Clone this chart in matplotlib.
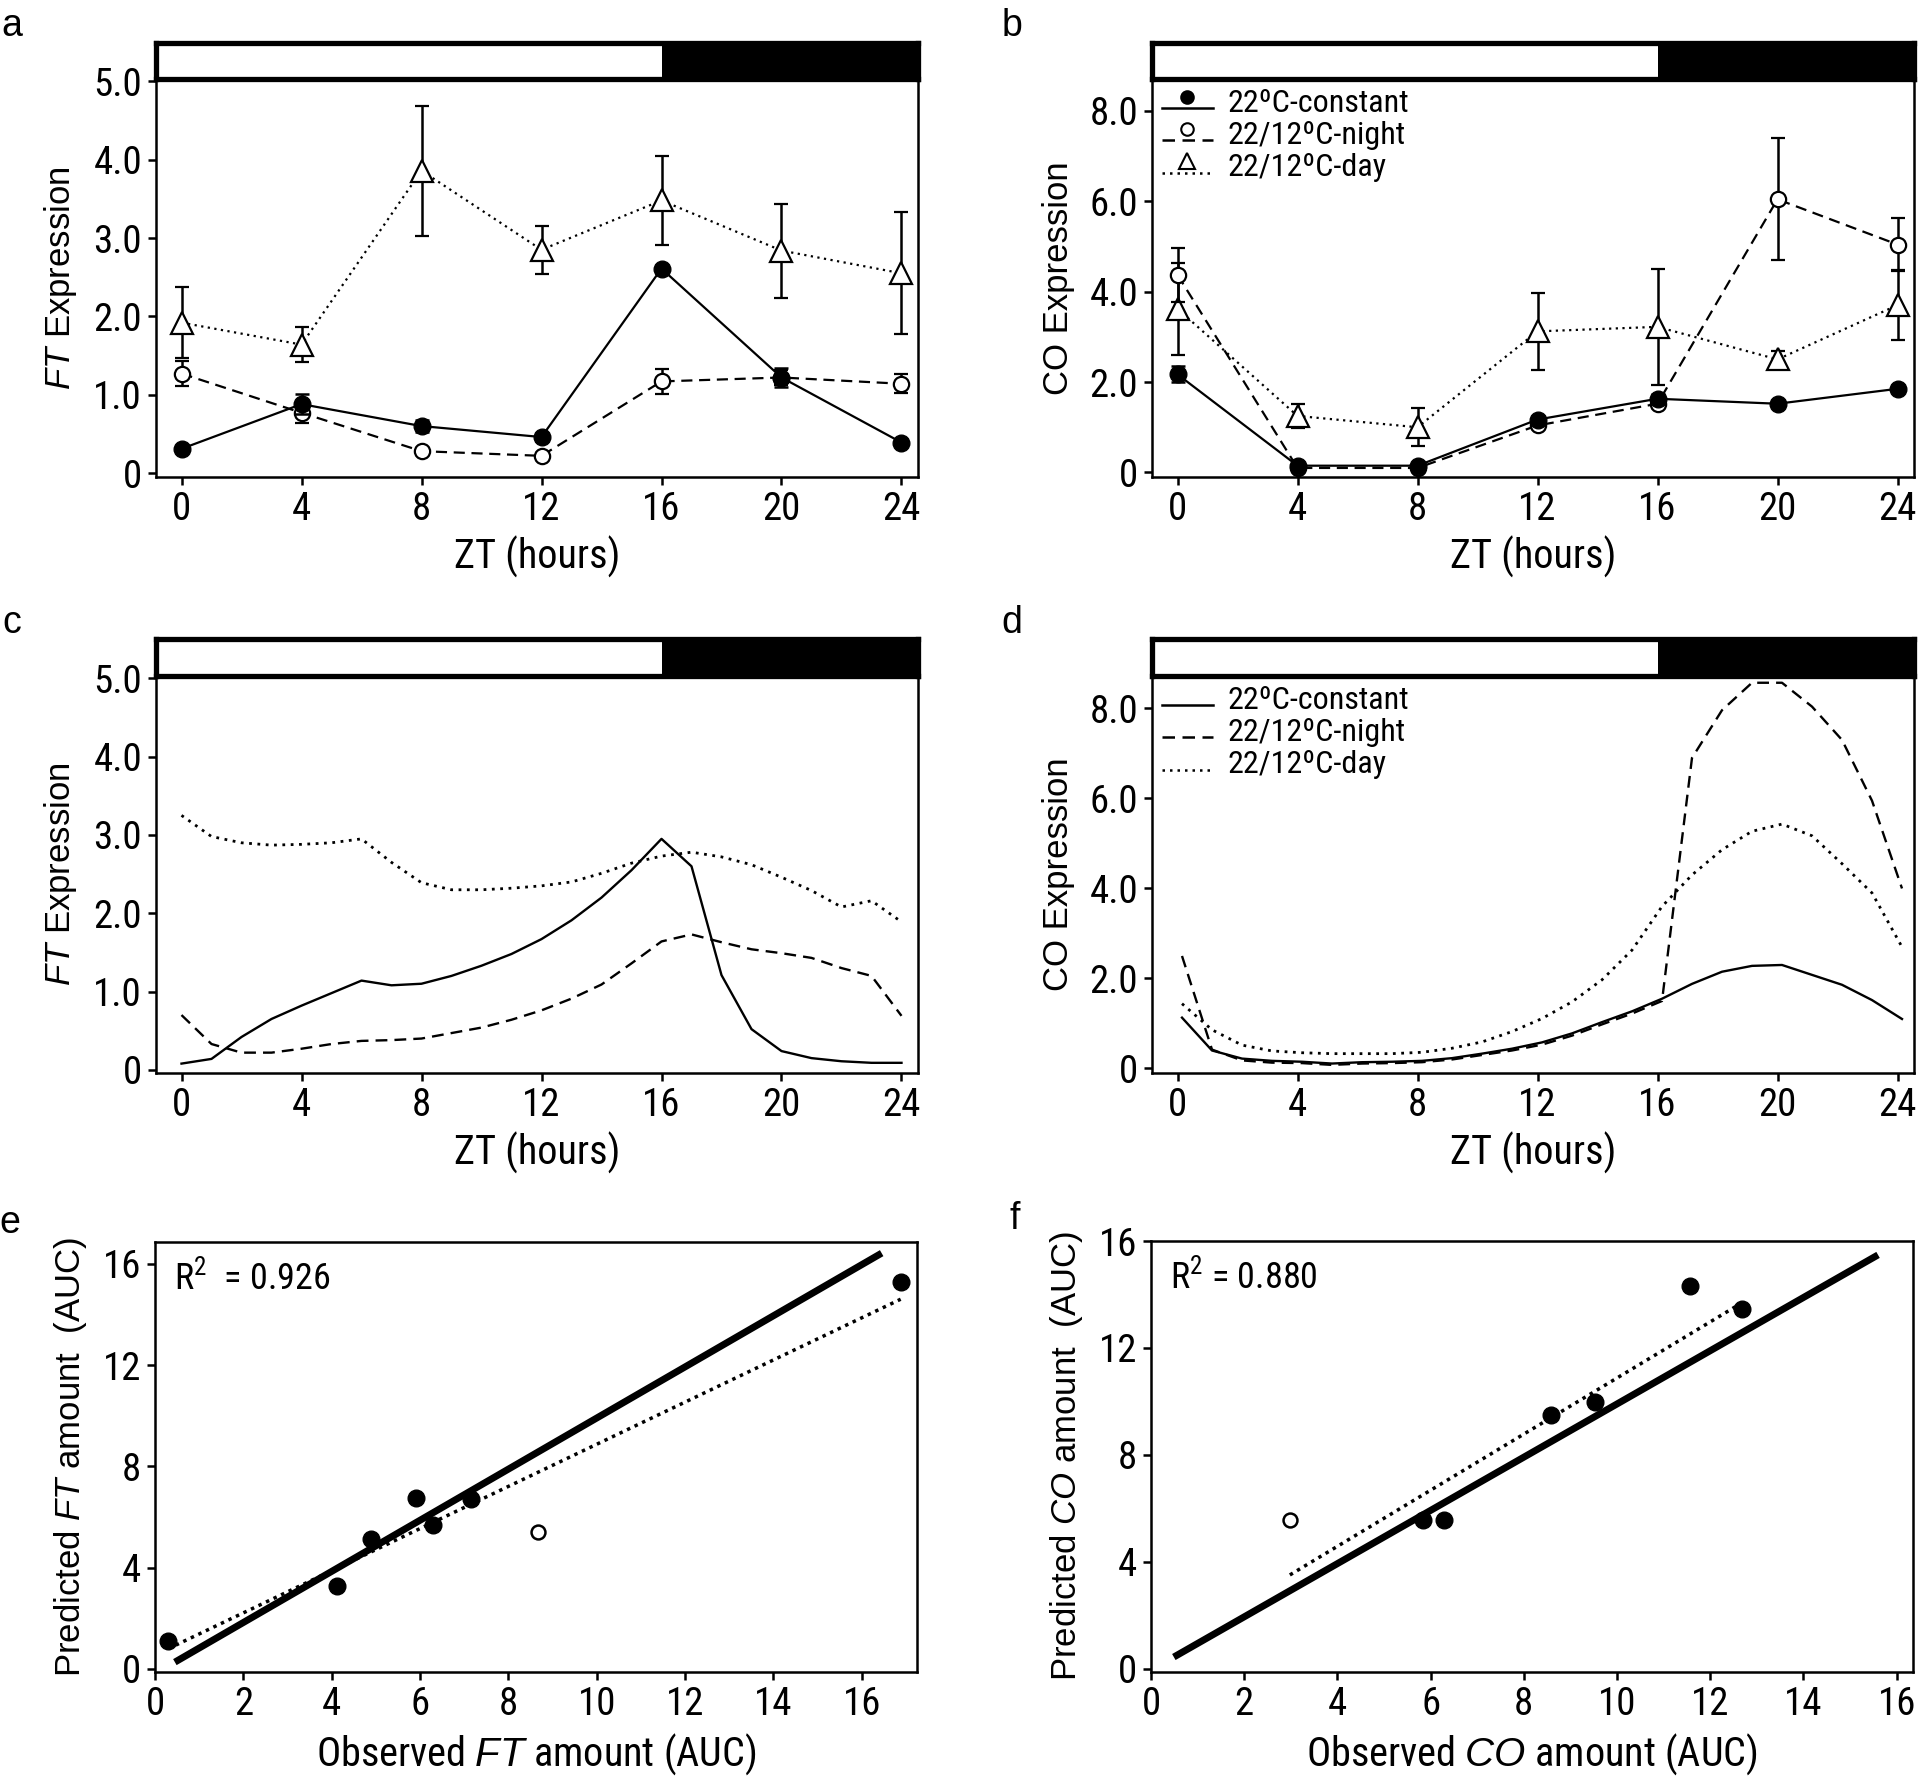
import matplotlib

matplotlib.use('Agg')

import matplotlib.pyplot as plt
from matplotlib.lines import Line2D
from matplotlib.legend_handler import HandlerBase

NARROW = ['Roboto Condensed', 'DejaVu Sans']
WIDE = ['Liberation Sans', 'DejaVu Sans']

plt.rcParams['font.family'] = NARROW
plt.rcParams['mathtext.fontset'] = 'custom'
plt.rcParams['mathtext.rm'] = 'Roboto Condensed'
plt.rcParams['mathtext.it'] = 'Liberation Sans:italic'

# ---- data: observed time courses (panels a, b)
zt = [0, 4, 8, 12, 16, 20, 24]

ft_const = [0.31, 0.88, 0.60, 0.46, 2.61, 1.22, 0.39]
ft_const_err = [0.04, 0.13, 0.08, 0.05, 0.05, 0.12, 0.04]
ft_night = [1.27, 0.77, 0.28, 0.22, 1.17, 1.22, 1.14]
ft_night_err = [0.16, 0.13, 0.03, 0.03, 0.16, 0.10, 0.12]
ft_day = [1.92, 1.64, 3.86, 2.85, 3.48, 2.84, 2.55]
ft_day_err = [0.45, 0.22, 0.83, 0.31, 0.57, 0.60, 0.78]

co_const = [2.17, 0.15, 0.15, 1.17, 1.63, 1.52, 1.85]
co_const_err = [0.18, 0.05, 0.05, 0.08, 0.10, 0.08, 0.08]
co_night = [4.37, 0.10, 0.10, 1.04, 1.52, 6.04, 5.04]
co_night_err = [0.60, 0.05, 0.05, 0.08, 0.10, 1.35, 0.58]
co_day = [3.62, 1.25, 1.00, 3.12, 3.22, 2.50, 3.70]
co_day_err = [1.02, 0.27, 0.42, 0.85, 1.28, 0.18, 0.78]

# ---- data: model simulations (panels c, d)
ft_model_t = [0, 1, 2, 3, 4, 5, 6, 7, 8, 9, 10, 11, 12,
              13, 14, 15, 16, 17, 18, 19, 20, 21, 22, 23, 24]
ft_model_const = [0.08, 0.14, 0.42, 0.65, 0.82, 0.98, 1.14, 1.08, 1.10, 1.20, 1.33, 1.48, 1.67,
                  1.91, 2.20, 2.55, 2.95, 2.60, 1.21, 0.52, 0.24, 0.15, 0.11, 0.09, 0.09]
ft_model_night = [0.70, 0.33, 0.22, 0.22, 0.27, 0.33, 0.37, 0.38, 0.40, 0.47, 0.54, 0.64, 0.76,
                  0.91, 1.09, 1.36, 1.64, 1.73, 1.63, 1.54, 1.49, 1.43, 1.30, 1.20, 0.69]
ft_model_day = [3.25, 2.98, 2.90, 2.87, 2.88, 2.90, 2.95, 2.65, 2.39, 2.30, 2.30, 2.32, 2.35,
                2.40, 2.51, 2.64, 2.73, 2.78, 2.72, 2.62, 2.46, 2.29, 2.08, 2.16, 1.89]

co_model_t = [0.15, 1.15, 2.15, 3.15, 4.15, 5.15, 6.15, 7.15, 8.15, 9.15, 10.15, 11.15, 12.15,
              13.15, 14.15, 15.15, 16.15, 17.15, 18.15, 19.15, 20.15, 21.15, 22.15, 23.15, 24.15]
co_model_const = [1.13, 0.40, 0.22, 0.17, 0.15, 0.11, 0.14, 0.15, 0.17, 0.23, 0.33, 0.44, 0.58,
                  0.78, 1.03, 1.27, 1.55, 1.88, 2.15, 2.28, 2.30, 2.08, 1.86, 1.52, 1.10]
co_model_night = [2.50, 0.42, 0.18, 0.13, 0.12, 0.08, 0.11, 0.12, 0.14, 0.20, 0.30, 0.40, 0.53,
                  0.73, 0.98, 1.22, 1.50, 6.90, 7.96, 8.57, 8.57, 8.04, 7.30, 5.95, 4.00]
co_model_day = [1.44, 0.86, 0.52, 0.39, 0.35, 0.33, 0.33, 0.33, 0.36, 0.45, 0.59, 0.82, 1.11,
                1.48, 1.97, 2.63, 3.60, 4.30, 4.86, 5.27, 5.43, 5.17, 4.55, 3.90, 2.70]

# ---- data: observed vs predicted AUC (panels e, f)
ft_obs = [0.30, 4.11, 4.88, 5.91, 6.29, 7.15, 16.88]
ft_pred = [1.12, 3.28, 5.14, 6.75, 5.70, 6.71, 15.28]
ft_out_obs = [8.68]
ft_out_pred = [5.39]
ft_diag_x = [0.45, 16.45]
ft_diag_y = [0.27, 16.42]
ft_fit_x = [0.30, 16.88]
ft_fit_y = [0.80, 14.60]

co_obs = [5.84, 6.28, 8.59, 9.52, 11.56, 12.69]
co_pred = [5.58, 5.58, 9.50, 9.98, 14.30, 13.44]
co_out_obs = [2.98]
co_out_pred = [5.58]
co_diag_x = [0.49, 15.60]
co_diag_y = [0.44, 15.48]
co_fit_x = [2.98, 12.69]
co_fit_y = [3.51, 13.70]

series_labels = ['22ºC-constant', '22/12ºC-night', '22/12ºC-day']
light_end = 16

W, H = 1920, 1782
fig = plt.figure(figsize=(W / 100, H / 100), dpi=100)

TICK_FS = 28
XLAB_FS = 29
YLAB_FS = 25
LEG_FS = 23
DOT = (0, (1, 2))
DASH = (0, (5, 3))


def px_axes(x0, y0, x1, y1):
    return fig.add_axes([x0 / W, 1 - y1 / H, (x1 - x0) / W, (y1 - y0) / H])


def style_axes(ax):
    for s in ax.spines.values():
        s.set_linewidth(1.8)
    ax.tick_params(direction='out', length=6, width=1.8, labelsize=TICK_FS, pad=4)


def light_bar(x0, x1, y0, y1, xlim):
    bar = px_axes(x0, y0, x1, y1)
    bar.set_xlim(*xlim)
    bar.set_ylim(0, 1)
    bar.axvspan(light_end, xlim[1], color='black', lw=0)
    bar.set_xticks([])
    bar.set_yticks([])
    for s in bar.spines.values():
        s.set_linewidth(3.8)
    return bar


class MarkerAboveLine(HandlerBase):
    def create_artists(self, legend, orig_handle, xdescent, ydescent,
                       width, height, fontsize, trans):
        ymid = (height - ydescent) / 2
        line = Line2D([-xdescent, width - xdescent], [ymid - 0.35 * height] * 2)
        line.update_from(orig_handle)
        line.set_marker('None')
        mk = Line2D([width / 2 - xdescent], [ymid + 0.15 * height])
        mk.update_from(orig_handle)
        mk.set_linestyle('None')
        for a in (line, mk):
            a.set_transform(trans)
        return [line, mk]


def add_legend(ax, markers):
    styles = ['-', DASH, DOT]
    fills = ['black', 'white', 'white']
    handles = []
    for m, ls, fc in zip(markers, styles, fills):
        handles.append(Line2D([], [], color='black', lw=1.8, ls=ls, marker=m,
                              ms=9 if m == 'o' else 11, mfc=fc, mec='black', mew=1.5))
    ax.legend(handles, series_labels, loc='upper left', bbox_to_anchor=(0.0, 1.0),
              frameon=False, fontsize=LEG_FS, handlelength=1.6, handletextpad=0.45,
              labelspacing=0.1, borderaxespad=0.1, borderpad=0.2,
              handler_map={Line2D: MarkerAboveLine()})


def timecourse(ax, const, const_err, night, night_err, day, day_err):
    kw = dict(color='black', lw=1.6, elinewidth=1.8, capsize=5, capthick=1.8)
    ax.errorbar(zt, day, yerr=day_err, ls=DOT, marker='^', ms=16, mfc='white',
                mec='black', mew=1.6, zorder=3, **kw)
    ax.errorbar(zt, night, yerr=night_err, ls=DASH, marker='o', ms=11, mfc='white',
                mec='black', mew=1.6, zorder=4, **kw)
    ax.errorbar(zt, const, yerr=const_err, ls='-', marker='o', ms=12, mfc='black',
                mec='black', zorder=5, **kw)


def model(ax, t, const, night, day):
    ax.plot(t, const, color='black', lw=1.7, ls='-')
    ax.plot(t, night, color='black', lw=1.7, ls=DASH)
    ax.plot(t, day, color='black', lw=2.0, ls=DOT)


def zt_axis(ax, xlim):
    ax.set_xlim(*xlim)
    ax.set_xticks(zt)
    ax.set_xticklabels([str(v) for v in zt])
    ax.set_xlabel('ZT (hours)', fontsize=XLAB_FS, labelpad=6)


XL = (-0.85, 24.55)
FT_Y = [0, 1, 2, 3, 4, 5]
FT_YL = ['0', '1.0', '2.0', '3.0', '4.0', '5.0']
CO_Y = [0, 2, 4, 6, 8]
CO_YL = ['0', '2.0', '4.0', '6.0', '8.0']

# ---- a
ax = px_axes(156, 79, 918, 477)
style_axes(ax)
timecourse(ax, ft_const, ft_const_err, ft_night, ft_night_err, ft_day, ft_day_err)
zt_axis(ax, XL)
ax.set_ylim(-0.05, 5.03)
ax.set_yticks(FT_Y)
ax.set_yticklabels(FT_YL)
ax.set_ylabel('$\\mathit{FT}$ Expression', family=WIDE, fontsize=YLAB_FS, labelpad=10)
light_bar(156, 918, 43, 79, XL)

# ---- b
ax = px_axes(1152, 79, 1914, 477)
style_axes(ax)
timecourse(ax, co_const, co_const_err, co_night, co_night_err, co_day, co_day_err)
zt_axis(ax, XL)
ax.set_ylim(-0.1, 8.7)
ax.set_yticks(CO_Y)
ax.set_yticklabels(CO_YL)
ax.set_ylabel('CO Expression', family=WIDE, fontsize=YLAB_FS, labelpad=10)
add_legend(ax, ['o', 'o', '^'])
light_bar(1152, 1914, 43, 79, XL)

# ---- c
ax = px_axes(156, 676, 918, 1073)
style_axes(ax)
model(ax, ft_model_t, ft_model_const, ft_model_night, ft_model_day)
zt_axis(ax, XL)
ax.set_ylim(-0.04, 5.03)
ax.set_yticks(FT_Y)
ax.set_yticklabels(FT_YL)
ax.set_ylabel('$\\mathit{FT}$ Expression', family=WIDE, fontsize=YLAB_FS, labelpad=10)
light_bar(156, 918, 639, 676, XL)

# ---- d
ax = px_axes(1152, 676, 1914, 1073)
style_axes(ax)
model(ax, co_model_t, co_model_const, co_model_night, co_model_day)
zt_axis(ax, XL)
ax.set_ylim(-0.1, 8.72)
ax.set_yticks(CO_Y)
ax.set_yticklabels(CO_YL)
ax.set_ylabel('CO Expression', family=WIDE, fontsize=YLAB_FS, labelpad=10)
add_legend(ax, ['None', 'None', 'None'])
light_bar(1152, 1914, 639, 676, XL)


# ---- e, f
def scatter_panel(ax, obs, pred, out_obs, out_pred, dx, dy, fx, fy, r2, name, xmax, ytop):
    style_axes(ax)
    ax.plot(dx, dy, color='black', lw=5, solid_capstyle='butt', zorder=2)
    ax.plot(fx, fy, color='black', lw=2.5, ls=(0, (1, 1.4)), zorder=2)
    ax.plot(obs, pred, 'o', color='black', ms=12, zorder=3)
    ax.plot(out_obs, out_pred, 'o', mfc='white', mec='black', mew=1.8, ms=10, zorder=3)
    ax.set_xlim(0, xmax)
    ax.set_ylim(-0.12, ytop)
    ax.set_xticks(range(0, 17, 2))
    ax.set_yticks([0, 4, 8, 12, 16])
    ax.set_xlabel('Observed $\\mathit{%s}$ amount (AUC)' % name, fontsize=XLAB_FS, labelpad=6)
    ax.set_ylabel('Predicted $\\mathit{%s}$ amount  (AUC)' % name, family=WIDE,
                  fontsize=YLAB_FS, labelpad=10)
    ax.text(0.025, 0.915, r2, transform=ax.transAxes, fontsize=26, va='center', ha='left')


ax = px_axes(155, 1242, 917, 1672)
scatter_panel(ax, ft_obs, ft_pred, ft_out_obs, ft_out_pred, ft_diag_x, ft_diag_y,
              ft_fit_x, ft_fit_y, 'R$^2$  = 0.926', 'FT', 17.25, 16.86)

ax = px_axes(1151, 1241, 1913, 1672)
scatter_panel(ax, co_obs, co_pred, co_out_obs, co_out_pred, co_diag_x, co_diag_y,
              co_fit_x, co_fit_y, 'R$^2$ = 0.880', 'CO', 16.35, 16.0)

# panel letters
for letter, x, y in [('a', 12, 26), ('b', 1012, 26), ('c', 12, 623),
                     ('d', 1012, 623), ('e', 10, 1223), ('f', 1015, 1219)]:
    fig.text(x / W, 1 - y / H, letter, family=WIDE, fontsize=27, ha='center', va='center')

fig.savefig('out.png', dpi=100)
plt.close(fig)
